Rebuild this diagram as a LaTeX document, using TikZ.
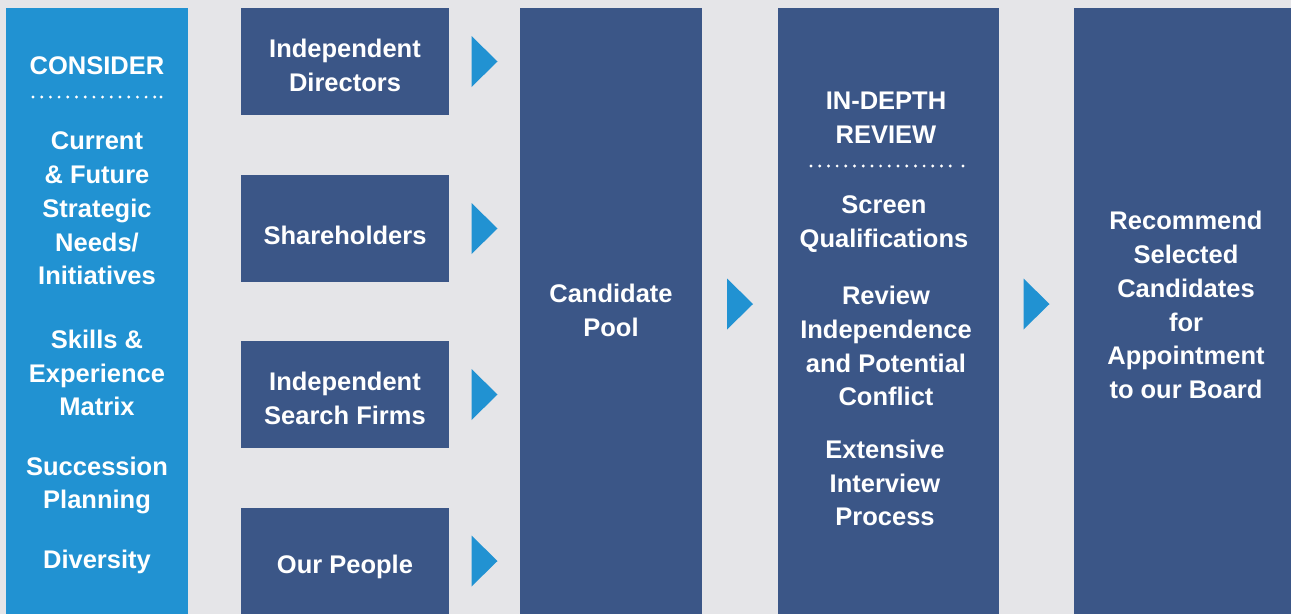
\documentclass[tikz,border=0pt]{standalone}
\usepackage{fontspec}
\setmainfont{Liberation Sans}
\definecolor{BGcolor}{HTML}{E5E5E8}
\definecolor{CONcolor}{HTML}{2192D2}
\definecolor{BOXcolor}{HTML}{3B5687}
\usetikzlibrary{calc}

\begin{document}
\begin{tikzpicture}[x=1pt, y=-1pt]
    \tikzset{%
        box/.style={fill=BOXcolor, inner sep=0pt, text=white, align=center,
                font=\bfseries\fontsize{25.5pt}{33.8pt}\selectfont},
        txt/.style={inner sep=0pt, text=white, align=center,
                font=\bfseries\fontsize{25.5pt}{33.8pt}\selectfont},
        pics/chevron/.style={code={%
                        \fill [CONcolor] (-13, -25.5) -- (13, 0) -- (-13, 25.5) -- cycle;
                    }},
        pics/dotrow/.style args={#1/#2}{code={%
                        \foreach \i in {0, ..., #1} {%
                                \fill [white] (\i*8.7, 0) circle (1.6);
                            };
                        \fill [white] (#2, 0) circle (1.6);
                    }}
    }

    % background
    \fill [BGcolor] (0, 0) rectangle (1291, 614);
    \useasboundingbox (0, 0) rectangle (1291, 614);

    % consider column
    \node [fill=CONcolor, inner sep=0pt, minimum width=182pt, minimum height=606pt] (consider) at (97, 311) {};
    \node [txt] (constitle) at (97, 66) {CONSIDER};
    \pic at (33, 97) {dotrow=14/128};
    \node [txt] (needs) at (97, 208.5) {Current\\\& Future\\Strategic\\Needs/\\Initiatives};
    \node [txt] (skills) at (97, 373) {Skills \&\\Experience\\Matrix};
    \node [txt] (succession) at (97, 485.5) {Succession\\Planning};
    \node [txt] (diversity) at (97, 562) {Diversity};

    % sources
    \node [box, minimum width=208pt, minimum height=107pt] (directors) at (345, 61.5) {};
    \node [txt] (dirtext) at (345, 65) {Independent\\Directors};
    \node [box, minimum width=208pt, minimum height=107pt] (holders) at (345, 228.5) {};
    \node [txt] (holdtext) at (345, 235) {Shareholders};
    \node [box, minimum width=208pt, minimum height=107pt] (firms) at (345, 394.5) {};
    \node [txt] (firmtext) at (345, 398) {Independent\\Search Firms};
    \node [box, minimum width=208pt, minimum height=106pt] (people) at (345, 561) {};
    \node [txt] (peopletext) at (345, 567) {Our People};

    % candidate pool
    \node [box, minimum width=182pt, minimum height=606pt] (pool) at (611, 311) {};
    \node [txt] (pooltext) at (611, 310) {Candidate\\Pool};

    % in-depth review
    \node [box, minimum width=221pt, minimum height=606pt] (review) at (888.5, 311) {};
    \node [txt] (reviewtitle) at (886, 117.5) {IN-DEPTH\\REVIEW};
    \pic at (811, 166) {dotrow=16/152};
    \node [txt] (screen) at (884, 224) {Screen\\Qualifications};
    \node [txt] (conflict) at (886, 346) {Review\\Independence\\and Potential\\Conflict};
    \node [txt] (interview) at (885, 483) {Extensive\\Interview\\Process};

    % recommend
    \node [box, minimum width=217pt, minimum height=606pt] (board) at (1182.5, 311) {};
    \node [txt] (boardtext) at (1186, 305) {Recommend\\Selected\\Candidates\\for\\Appointment\\to our Board};

    % chevrons
    \foreach \src in {directors, holders, firms, people} {%
            \pic at ($(\src.east)!0.5!(pool.west |- \src.east)$) {chevron};
        };
    \pic at ($(pool.east)!0.5!(review.west) + (0, -7)$) {chevron};
    \pic at ($(review.east)!0.5!(board.west) + (0, -7)$) {chevron};
\end{tikzpicture}
\end{document}
